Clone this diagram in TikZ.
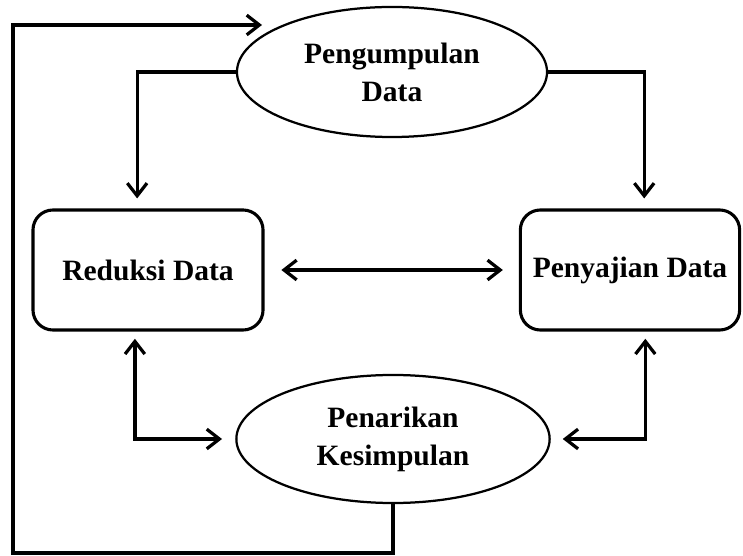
\documentclass[tikz,border=0pt]{standalone}
\usepackage{fontspec}
\setmainfont{Liberation Serif}
\usetikzlibrary{arrows.meta,shapes.geometric}

\begin{document}
\begin{tikzpicture}[x=0.025cm, y=-0.025cm,
	font=\bfseries\fontsize{21}{27}\selectfont,
	ellip/.style={ellipse,draw,line width=1.6pt,align=center,inner sep=0pt},
	kotak/.style={rectangle,rounded corners=0.5cm,draw,line width=2.2pt,align=center,minimum height=3cm},
	arr/.style={line width=2.3pt,-{Straight Barb[length=9pt,width=14pt]}},
	darr/.style={line width=2.3pt,{Straight Barb[length=9pt,width=14pt]}-{Straight Barb[length=9pt,width=14pt]}}]
	\useasboundingbox (0,0) rectangle (743,556);
	
	\node[ellip, minimum width=7.75cm, minimum height=3.25cm] (peng) at (392,72) {Pengumpulan\\Data};
	\node[kotak, minimum width=5.75cm] (red) at (148,270) {Reduksi Data};
	\node[kotak, minimum width=5.48cm] (pen) at (630,270) {Penyajian Data};
	\node[ellip, minimum width=7.83cm, minimum height=3.2cm] (kes) at (393,439) {Penarikan\\Kesimpulan};
	
	\coordinate (fbl) at (13,553);
	\coordinate (fbt) at (262,25);
	
	\draw[arr, shorten >=0.25cm] (peng.west) -| (red.100);
	\draw[arr, shorten >=0.25cm] (peng.east) -| (pen.77);
	\draw[darr, shorten <=0.42cm, shorten >=0.4cm] (red.east) -- (pen.west);
	\draw[darr, shorten <=0.18cm, shorten >=0.33cm] (red.258) |- (kes.west);
	\draw[darr, shorten <=0.18cm, shorten >=0.3cm] (pen.284) |- (kes.east);
	\draw[arr] (kes.south) |- (fbl) |- (fbt);
\end{tikzpicture}
\end{document}
